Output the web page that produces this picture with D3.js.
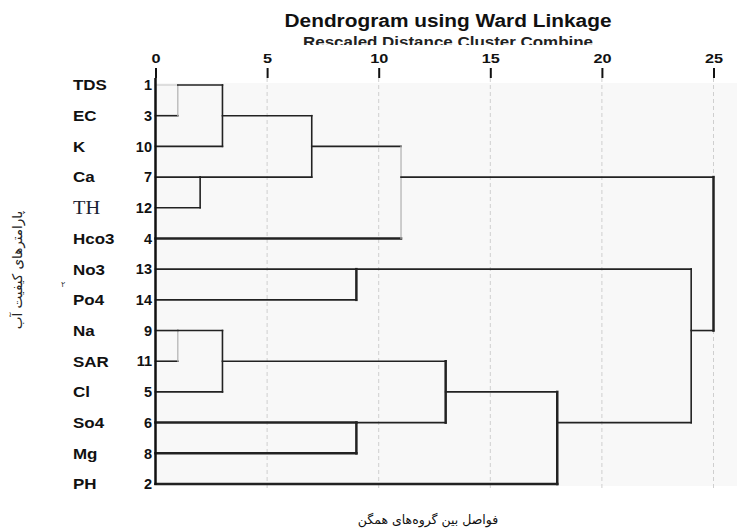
<!DOCTYPE html>
<html><head><meta charset="utf-8">
<script src="https://cdn.jsdelivr.net/npm/d3@7"></script>
<style>body{margin:0;background:#fff}</style>
</head><body>
<script>
// ---- data ----
const labels = ["TDS","EC","K","Ca","TH","Hco3","No3","Po4","Na","SAR","Cl","So4","Mg","PH"];
const caseNums = [1,3,10,7,12,4,13,14,9,11,5,6,8,2];
// merges: [childA, childB, rescaled distance]; ids < 14 are leaves, 14+ are clusters in order
const mergeA = [0,14,3,15,17,6,8,20,11,21,23,19,18];
const mergeB = [1,2,4,16,5,7,9,10,12,22,13,24,25];
const mergeH = [1,3,2,7,11,9,1,3,9,13,18,24,25];
const ticks = [0,5,10,15,20,25];
const title = "Dendrogram using Ward Linkage";
const subtitle = "Rescaled Distance Cluster Combine";
const xTitle = "فواصل بین گروه‌های همگن";
const yTitle = "پارامترهای کیفیت آب";

const W = 737, H = 532;
const FONT = "Arial, 'Liberation Sans', sans-serif";
const svg = d3.select("body").append("svg").attr("width", W).attr("height", H);
const x = d3.scaleLinear().domain([0,25]).range([155.5, 713.5]);
const y = d3.scaleLinear().domain([0,13]).range([85, 484]);

// background
svg.append("rect").attr("x", x(0)).attr("y", 83).attr("width", W - x(0)).attr("height", 403).attr("fill", "#f8f8f8");

// grid
svg.append("g").selectAll("line").data(ticks.filter(t => t > 0)).join("line")
  .attr("x1", d => x(d)).attr("x2", d => x(d)).attr("y1", 78).attr("y2", 488)
  .attr("stroke", "#cfcfcf").attr("stroke-width", 1).attr("stroke-dasharray", "4,3");

// axis
const ax = d3.axisTop(x).tickValues(ticks).tickSize(10).tickPadding(5);
const g = svg.append("g").attr("transform", "translate(0,78)").call(ax);
g.select(".domain").remove();
g.selectAll(".tick line").attr("stroke", "#111").attr("stroke-width", 2);
g.selectAll(".tick text").attr("font-family", FONT).attr("font-size", 13).attr("font-weight", "bold")
  .attr("fill", "#111").attr("transform", "scale(1.25,1)");

// titles
svg.append("text").attr("x", 448).attr("y", 27).attr("text-anchor", "middle")
  .attr("textLength", 327).attr("lengthAdjust", "spacingAndGlyphs")
  .attr("font-family", FONT).attr("font-size", 18).attr("font-weight", "bold").attr("fill", "#111").text(title);
svg.append("clipPath").attr("id", "subclip").append("rect").attr("x", 0).attr("y", 0).attr("width", W).attr("height", 45);
svg.append("text").attr("x", 448).attr("y", 47).attr("text-anchor", "middle").attr("clip-path", "url(#subclip)")
  .attr("textLength", 290).attr("lengthAdjust", "spacingAndGlyphs")
  .attr("font-family", FONT).attr("font-size", 14).attr("font-weight", "bold").attr("fill", "#222").text(subtitle);

// row labels
const rows = svg.append("g");
labels.forEach((l, i) => {
  const isTH = l === "TH";
  rows.append("text").attr("x", 73).attr("y", y(i)).attr("dy", "0.36em")
    .attr("transform", "translate(73,0) scale(1.13,1) translate(-73,0)")
    .attr("font-family", isTH ? "'Liberation Serif', 'Times New Roman', serif" : FONT)
    .attr("font-size", isTH ? 18 : 15).attr("font-weight", isTH ? "normal" : "bold")
    .attr("fill", isTH ? "#1a2233" : "#111").text(l);
  rows.append("text").attr("x", 152).attr("y", y(i)).attr("dy", "0.36em").attr("text-anchor", "end")
    .attr("font-family", FONT).attr("font-size", 14.5).attr("font-weight", "bold").attr("fill", "#111").text(caseNums[i]);
});

// dendrogram geometry
const n = labels.length;
const pos = {}; // id -> {row, h}
labels.forEach((l, i) => pos[i] = {row: i, h: 0});
const segs = [];
mergeH.forEach((h, k) => {
  const a = pos[mergeA[k]], b = pos[mergeB[k]];
  segs.push({x1: a.h, x2: h, r1: a.row, r2: a.row, kind: "h", child: mergeA[k], m: k});
  segs.push({x1: b.h, x2: h, r1: b.row, r2: b.row, kind: "h", child: mergeB[k], m: k});
  segs.push({x1: h, x2: h, r1: a.row, r2: b.row, kind: "v", m: k});
  pos[n + k] = {row: Math.floor((a.row + b.row) / 2), h: h};
});

// line styling (visual only)
const lightV = new Set([0, 6, 4]);
const thickV = new Set([5, 8, 9, 10, 12]);
const thickLeaf = new Set([5, 11, 12, 13]);
function strokeOf(s) {
  if (s.kind === "v") return lightV.has(s.m) ? "#b0b0b0" : "#222";
  if (s.child === 0) return "#d8d8d8";
  return "#222";
}
function widthOf(s) {
  if (s.kind === "v") return thickV.has(s.m) ? 2.5 : (lightV.has(s.m) ? 1.2 : 1.6);
  if (s.child < n && thickLeaf.has(s.child)) return 2.5;
  return 1.6;
}
svg.append("g").selectAll("line").data(segs.filter(s => !(s.kind === "h" && s.x1 === s.x2))).join("line")
  .attr("x1", s => x(s.x1)).attr("x2", s => x(s.x2))
  .attr("y1", s => y(s.r1)).attr("y2", s => y(s.r2))
  .attr("stroke", strokeOf).attr("stroke-width", widthOf).attr("stroke-linecap", "square");

// left axis line
svg.append("line").attr("x1", x(0)).attr("x2", x(0)).attr("y1", 78).attr("y2", y(13) + 1)
  .attr("stroke", "#111").attr("stroke-width", 2.5);

// axis titles
svg.append("text").attr("x", 428).attr("y", 524).attr("text-anchor", "middle").attr("direction", "rtl")
  .attr("font-family", "'DejaVu Sans', sans-serif").attr("font-size", 12.5).attr("fill", "#111").text(xTitle);
svg.append("text").attr("transform", "translate(22,270) rotate(-90)").attr("text-anchor", "middle").attr("direction", "rtl")
  .attr("font-family", "'DejaVu Sans', sans-serif").attr("font-size", 13.5).attr("fill", "#222").text(yTitle);
svg.append("text").attr("x", 61).attr("y", 287).attr("font-family", "'DejaVu Sans', sans-serif").attr("font-size", 8).attr("fill", "#333").text("۲");
</script>
</body></html>
